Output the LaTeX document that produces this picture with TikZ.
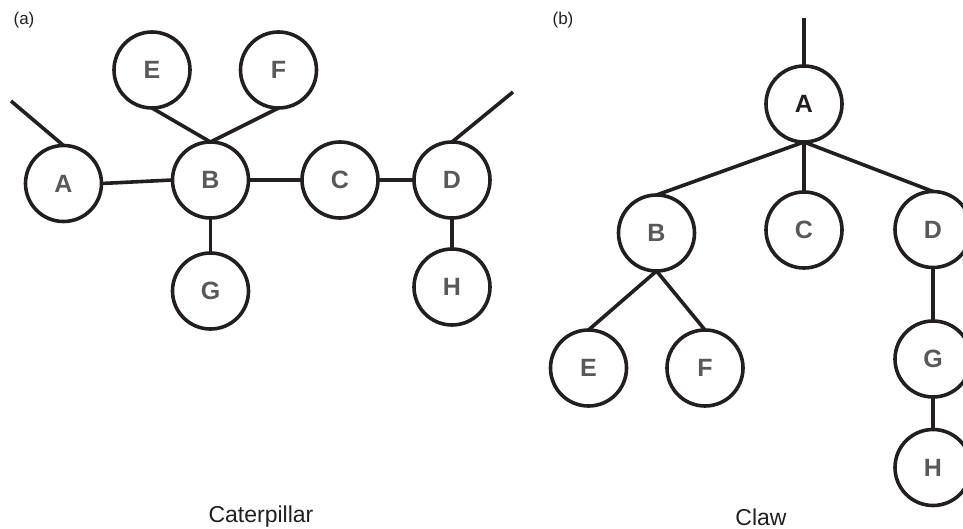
\documentclass[tikz,border=0pt]{standalone}
\usepackage{fontspec}
\setmainfont{Liberation Sans}
\begin{document}
\begin{tikzpicture}[x=1pt,y=-1pt,
  vert/.style={circle,draw=ink,line width=3.6pt,minimum size=76pt,inner sep=0pt,outer sep=0pt,
    text=letter,font=\fontsize{25}{30}\selectfont\bfseries},
  edge/.style={draw=ink,line width=3.6pt},
  caption/.style={text=ink,font=\fontsize{23}{28}\selectfont,inner sep=0pt,anchor=base},
  panel/.style={text=ink,font=\fontsize{17}{20}\selectfont,inner sep=0pt}]
\definecolor{ink}{HTML}{231F20}
\definecolor{letter}{HTML}{58595B}
\useasboundingbox (0,0) rectangle (963,529);
% (a) Caterpillar
\node[panel] (la) at (24,20) {(a)};
\node[vert] (aA) at (63.5,183.5) {A};
\node[vert] (aB) at (210.5,180) {B};
\node[vert] (aC) at (340,180) {C};
\node[vert] (aD) at (452,180) {D};
\node[vert] (aE) at (152,70) {E};
\node[vert] (aF) at (278.5,70) {F};
\node[vert] (aG) at (210.5,291) {G};
\node[vert] (aH) at (452,287) {H};
\coordinate (aL) at (11,101);
\coordinate (aR) at (513,92);
\draw[edge] (aL) -- (aA.north);
\draw[edge] (aA.east) -- (aB.west);
\draw[edge] (aE.south) -- (aB.north);
\draw[edge] (aF.south) -- (aB.north);
\draw[edge] (aB) -- (aC);
\draw[edge] (aC) -- (aD);
\draw[edge] (aB.south) -- (aG.north);
\draw[edge] (aD.north) -- (aR);
\draw[edge] (aD.south) -- (aH.north);
\node[caption] (capa) at (261,522) {Caterpillar};
% (b) Claw
\node[panel] (lb) at (563,20) {(b)};
\node[vert,text=ink] (bA) at (804,104) {A};
\node[vert] (bB) at (656.5,233) {B};
\node[vert] (bC) at (804,230) {C};
\node[vert] (bD) at (933,229.5) {D};
\node[vert] (bE) at (588.5,368) {E};
\node[vert] (bF) at (705,368) {F};
\node[vert] (bG) at (933,359) {G};
\node[vert] (bH) at (933,467.5) {H};
\coordinate (bT) at (804,18);
\draw[edge] (bT) -- (bA.north);
\draw[edge] (bA.south) -- (bB.north);
\draw[edge] (bA.south) -- (bC.north);
\draw[edge] (bA.south) -- (bD.north);
\draw[edge] (bB.south) -- (bE.north);
\draw[edge] (bB.south) -- (bF.north);
\draw[edge] (bD.south) -- (bG.north);
\draw[edge] (bG.south) -- (bH.north);
\node[caption] (capb) at (761,525) {Claw};
\end{tikzpicture}
\end{document}
